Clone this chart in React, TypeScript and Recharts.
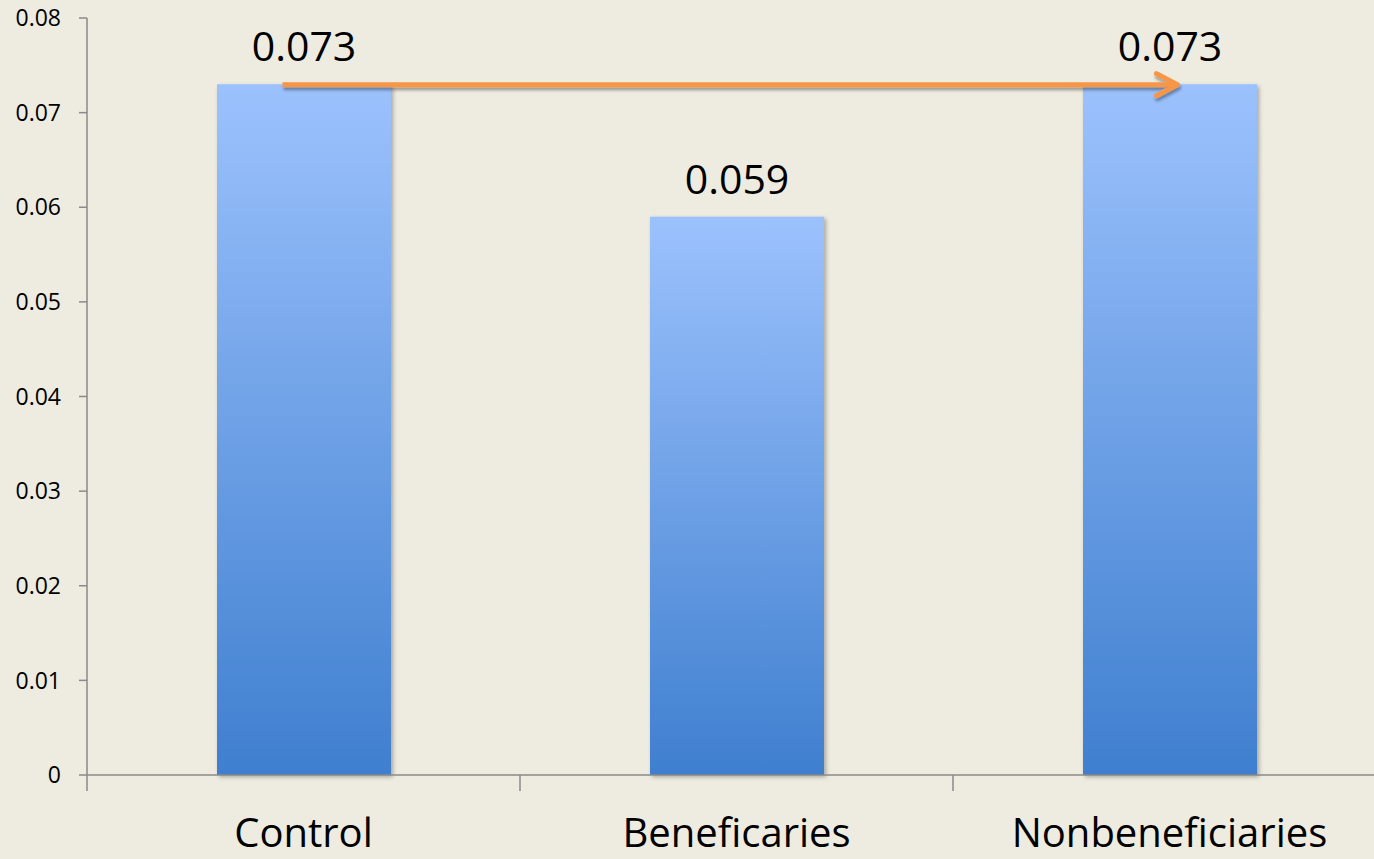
import { BarChart, Bar, XAxis, YAxis, ReferenceLine, LabelList } from 'recharts'

const categories = ['Control', 'Beneficaries', 'Nonbeneficiaries']
const values = [0.073, 0.059, 0.073]
const valueLabels = ['0.073', '0.059', '0.073']
const yTicks = [0, 0.01, 0.02, 0.03, 0.04, 0.05, 0.06, 0.07, 0.08]

const data = categories.map((name, i) => ({ name, value: values[i], label: valueLabels[i] }))

const CHART_W = 1386
const CHART_H = 859
const Y_AXIS_W = 87
const X_AXIS_H = 84
const AXIS_Y = CHART_H - X_AXIS_H
const BAND = (CHART_W - Y_AXIS_W) / categories.length
const AXIS_COLOR = '#8a8a8a'
const BG = '#EEEBE0'

function CategoryTick(props: any) {
  const { x, payload } = props
  const half = payload?.offset || BAND / 2
  return (
    <g>
      <line x1={x - half} x2={x - half} y1={AXIS_Y} y2={AXIS_Y + 16} stroke={AXIS_COLOR} strokeWidth={1.5} />
      <text x={x} y={847} textAnchor="middle" fontSize={40} fill="#000">
        {payload.value}
      </text>
    </g>
  )
}

function ArrowShape(p: any) {
  if (p.x1 == null) return null
  const x1 = p.x1 - 21
  const x2 = p.x2 + 8
  const y = p.y1 + 0.5
  return (
    <g filter="url(#arrowShadow)">
      <line x1={x1} x2={x2 - 2} y1={y} y2={y} stroke="#F79646" strokeWidth={5} />
      <polyline
        points={`${x2 - 21},${y - 11} ${x2},${y} ${x2 - 21},${y + 11}`}
        fill="none"
        stroke="#F79646"
        strokeWidth={5}
        strokeLinecap="round"
        strokeLinejoin="round"
      />
    </g>
  )
}

function GradientBar(p: any) {
  if (!p.height) return null
  return (
    <rect x={p.x} y={p.y} width={p.width} height={p.height} fill="url(#barGrad)" filter="url(#barShadow)" />
  )
}

export default function App() {
  return (
    <div style={{ position: 'fixed', left: 0, top: 0, width: 1374, height: 859, overflow: 'hidden', background: BG }}>
      <BarChart
        width={CHART_W}
        height={CHART_H}
        data={data}
        margin={{ top: 18, right: 0, bottom: 0, left: 0 }}
        style={{ fontFamily: '"Open Sans", sans-serif' }}
      >
        <defs>
          <linearGradient id="barGrad" x1="0" y1="0" x2="0" y2="1">
            <stop offset="0%" stopColor="#9CC2FD" />
            <stop offset="100%" stopColor="#3F7FCF" />
          </linearGradient>
          <filter id="barShadow" x="-10%" y="-10%" width="130%" height="130%">
            <feDropShadow dx="2" dy="2" stdDeviation="2" floodColor="#000" floodOpacity="0.3" />
          </filter>
          <filter id="arrowShadow" x="-5%" y="-100%" width="110%" height="300%">
            <feDropShadow dx="1" dy="3" stdDeviation="1.5" floodColor="#000" floodOpacity="0.35" />
          </filter>
        </defs>
        <XAxis
          xAxisId="cat"
          dataKey="name"
          height={X_AXIS_H}
          tickLine={false}
          axisLine={{ stroke: AXIS_COLOR, strokeWidth: 1.5 }}
          tick={<CategoryTick />}
          interval={0}
        />
        <YAxis
          width={Y_AXIS_W}
          domain={[0, 0.08]}
          ticks={yTicks}
          interval={0}
          tickSize={8}
          tickMargin={18}
          tickFormatter={(v: number) => (v === 0 ? '0' : v.toFixed(2))}
          tick={{ fontSize: 23, fill: '#000' }}
          tickLine={{ stroke: AXIS_COLOR, strokeWidth: 1.5 }}
          axisLine={{ stroke: AXIS_COLOR, strokeWidth: 1.5 }}
        />
        <Bar xAxisId="cat" dataKey="value" barSize={174} fill="#6A9BE6" shape={<GradientBar />} isAnimationActive={false}>
          <LabelList dataKey="label" position="top" offset={23} fontSize={41} fill="#000" />
        </Bar>
        <ReferenceLine
          xAxisId="cat"
          segment={[
            { x: categories[0], y: values[0] },
            { x: categories[2], y: values[2] },
          ]}
          shape={<ArrowShape />}
        />
      </BarChart>
    </div>
  )
}
